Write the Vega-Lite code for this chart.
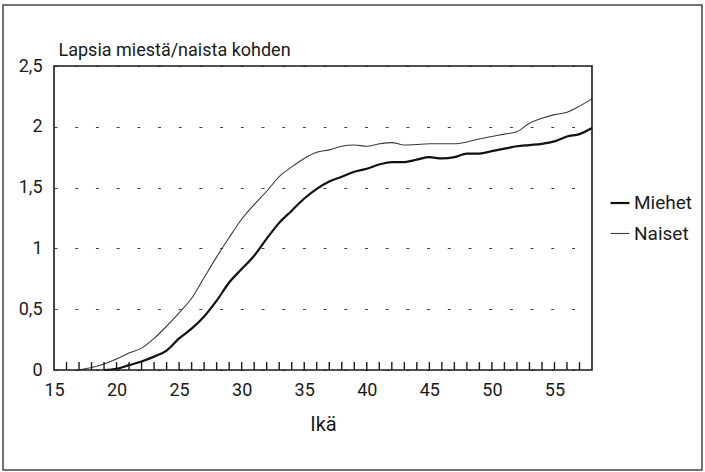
{
  "$schema": "https://vega.github.io/schema/vega-lite/v6.json",
  "autosize": {"type": "none"},
  "padding": {"left": 3, "top": 5, "right": 3, "bottom": 2},
  "width": 699,
  "height": 465,
  "background": "white",
  "config": {
    "view": {"stroke": "#444", "strokeWidth": 1.5},
    "font": "Roboto",
    "axis": {"labelFont": "Roboto", "titleFont": "Roboto", "labelColor": "#1a1a1a", "titleColor": "#1a1a1a", "titleFontWeight": "normal"},
    "legend": {"labelFont": "Roboto"}
  },
  "datasets": {
    "series": [
      {"age": 17, "value": 0.0, "sex": "Naiset"},
      {"age": 18, "value": 0.02, "sex": "Naiset"},
      {"age": 19, "value": 0.05, "sex": "Naiset"},
      {"age": 20, "value": 0.09, "sex": "Naiset"},
      {"age": 21, "value": 0.14, "sex": "Naiset"},
      {"age": 22, "value": 0.18, "sex": "Naiset"},
      {"age": 23, "value": 0.26, "sex": "Naiset"},
      {"age": 24, "value": 0.36, "sex": "Naiset"},
      {"age": 25, "value": 0.47, "sex": "Naiset"},
      {"age": 26, "value": 0.59, "sex": "Naiset"},
      {"age": 27, "value": 0.76, "sex": "Naiset"},
      {"age": 28, "value": 0.93, "sex": "Naiset"},
      {"age": 29, "value": 1.09, "sex": "Naiset"},
      {"age": 30, "value": 1.24, "sex": "Naiset"},
      {"age": 31, "value": 1.36, "sex": "Naiset"},
      {"age": 32, "value": 1.47, "sex": "Naiset"},
      {"age": 33, "value": 1.59, "sex": "Naiset"},
      {"age": 34, "value": 1.67, "sex": "Naiset"},
      {"age": 35, "value": 1.74, "sex": "Naiset"},
      {"age": 36, "value": 1.79, "sex": "Naiset"},
      {"age": 37, "value": 1.81, "sex": "Naiset"},
      {"age": 38, "value": 1.84, "sex": "Naiset"},
      {"age": 39, "value": 1.85, "sex": "Naiset"},
      {"age": 40, "value": 1.84, "sex": "Naiset"},
      {"age": 41, "value": 1.86, "sex": "Naiset"},
      {"age": 42, "value": 1.87, "sex": "Naiset"},
      {"age": 43, "value": 1.85, "sex": "Naiset"},
      {"age": 44, "value": 1.855, "sex": "Naiset"},
      {"age": 45, "value": 1.86, "sex": "Naiset"},
      {"age": 46, "value": 1.86, "sex": "Naiset"},
      {"age": 47, "value": 1.86, "sex": "Naiset"},
      {"age": 48, "value": 1.875, "sex": "Naiset"},
      {"age": 49, "value": 1.9, "sex": "Naiset"},
      {"age": 50, "value": 1.92, "sex": "Naiset"},
      {"age": 51, "value": 1.94, "sex": "Naiset"},
      {"age": 52, "value": 1.96, "sex": "Naiset"},
      {"age": 53, "value": 2.03, "sex": "Naiset"},
      {"age": 54, "value": 2.07, "sex": "Naiset"},
      {"age": 55, "value": 2.1, "sex": "Naiset"},
      {"age": 56, "value": 2.12, "sex": "Naiset"},
      {"age": 57, "value": 2.17, "sex": "Naiset"},
      {"age": 58, "value": 2.23, "sex": "Naiset"},
      {"age": 19, "value": 0.0, "sex": "Miehet"},
      {"age": 20, "value": 0.01, "sex": "Miehet"},
      {"age": 21, "value": 0.04, "sex": "Miehet"},
      {"age": 22, "value": 0.07, "sex": "Miehet"},
      {"age": 23, "value": 0.11, "sex": "Miehet"},
      {"age": 24, "value": 0.16, "sex": "Miehet"},
      {"age": 25, "value": 0.26, "sex": "Miehet"},
      {"age": 26, "value": 0.34, "sex": "Miehet"},
      {"age": 27, "value": 0.44, "sex": "Miehet"},
      {"age": 28, "value": 0.57, "sex": "Miehet"},
      {"age": 29, "value": 0.72, "sex": "Miehet"},
      {"age": 30, "value": 0.83, "sex": "Miehet"},
      {"age": 31, "value": 0.94, "sex": "Miehet"},
      {"age": 32, "value": 1.08, "sex": "Miehet"},
      {"age": 33, "value": 1.21, "sex": "Miehet"},
      {"age": 34, "value": 1.31, "sex": "Miehet"},
      {"age": 35, "value": 1.41, "sex": "Miehet"},
      {"age": 36, "value": 1.49, "sex": "Miehet"},
      {"age": 37, "value": 1.55, "sex": "Miehet"},
      {"age": 38, "value": 1.59, "sex": "Miehet"},
      {"age": 39, "value": 1.63, "sex": "Miehet"},
      {"age": 40, "value": 1.655, "sex": "Miehet"},
      {"age": 41, "value": 1.69, "sex": "Miehet"},
      {"age": 42, "value": 1.71, "sex": "Miehet"},
      {"age": 43, "value": 1.71, "sex": "Miehet"},
      {"age": 44, "value": 1.73, "sex": "Miehet"},
      {"age": 45, "value": 1.75, "sex": "Miehet"},
      {"age": 46, "value": 1.74, "sex": "Miehet"},
      {"age": 47, "value": 1.75, "sex": "Miehet"},
      {"age": 48, "value": 1.78, "sex": "Miehet"},
      {"age": 49, "value": 1.78, "sex": "Miehet"},
      {"age": 50, "value": 1.8, "sex": "Miehet"},
      {"age": 51, "value": 1.82, "sex": "Miehet"},
      {"age": 52, "value": 1.84, "sex": "Miehet"},
      {"age": 53, "value": 1.85, "sex": "Miehet"},
      {"age": 54, "value": 1.86, "sex": "Miehet"},
      {"age": 55, "value": 1.88, "sex": "Miehet"},
      {"age": 56, "value": 1.92, "sex": "Miehet"},
      {"age": 57, "value": 1.94, "sex": "Miehet"},
      {"age": 58, "value": 1.99, "sex": "Miehet"}
    ]
  },
  "resolve": {"axis": {"x": "independent", "y": "independent"}},
  "layer": [
    {
      "data": {"name": "series"},
      "mark": {"type": "line", "interpolate": "monotone"},
      "encoding": {
        "x": {
          "field": "age", "type": "quantitative",
          "scale": {"domain": [15, 58], "range": [51, 589], "nice": false, "zero": false},
          "axis": {
            "title": "Ikä", "titleFontSize": 20, "titleY": 60, "titleBaseline": "alphabetic",
            "offset": -100, "domain": false, "grid": false, "ticks": false,
            "values": [15, 20, 25, 30, 35, 40, 45, 50, 55],
            "labelFontSize": 18, "labelPadding": 11, "labelFlush": false, "labelOverlap": false
          }
        },
        "y": {
          "field": "value", "type": "quantitative",
          "scale": {"domain": [0, 2.5], "range": [365, 61], "nice": false},
          "axis": {
            "title": "Lapsia miestä/naista kohden", "titleAngle": 0, "titleAlign": "left",
            "titleBaseline": "alphabetic", "titleX": 4, "titleY": 50, "titleFontSize": 18,
            "offset": -51, "domain": false, "ticks": false,
            "values": [0, 0.5, 1, 1.5, 2, 2.5],
            "labelExpr": "replace(format(datum.value, '~g'), '.', ',')",
            "labelFontSize": 18, "labelPadding": 12,
            "grid": true, "gridColor": "#444", "gridDash": [3, 17.7], "gridWidth": 1.2
          }
        },
        "color": {
          "field": "sex", "type": "nominal",
          "scale": {"domain": ["Miehet", "Naiset"], "range": ["#111111", "#3a3a3a"]},
          "legend": {
            "title": null, "orient": "none", "legendX": 606, "legendY": 187,
            "symbolType": "stroke", "symbolSize": 361, "labelFontSize": 19,
            "labelColor": "#1a1a1a", "labelOffset": 3, "rowPadding": 10, "padding": 0
          }
        },
        "strokeWidth": {
          "field": "sex", "type": "ordinal",
          "scale": {"domain": ["Miehet", "Naiset"], "range": [2.2, 1.1]},
          "legend": {
            "title": null, "orient": "none", "legendX": 606, "legendY": 187,
            "symbolType": "stroke", "symbolSize": 361, "labelFontSize": 19,
            "labelColor": "#1a1a1a", "labelOffset": 3, "rowPadding": 10, "padding": 0
          }
        }
      }
    },
    {
      "data": {"values": [
        {"age": 16}, {"age": 17}, {"age": 18}, {"age": 19}, {"age": 20}, {"age": 21}, {"age": 22},
        {"age": 23}, {"age": 24}, {"age": 25}, {"age": 26}, {"age": 27}, {"age": 28}, {"age": 29},
        {"age": 30}, {"age": 31}, {"age": 32}, {"age": 33}, {"age": 34}, {"age": 35}, {"age": 36},
        {"age": 37}, {"age": 38}, {"age": 39}, {"age": 40}, {"age": 41}, {"age": 42}, {"age": 43},
        {"age": 44}, {"age": 45}, {"age": 46}, {"age": 47}, {"age": 48}, {"age": 49}, {"age": 50},
        {"age": 51}, {"age": 52}, {"age": 53}, {"age": 54}, {"age": 55}, {"age": 56}, {"age": 57}
      ]},
      "mark": {"type": "rule", "color": "#1a1a1a", "strokeWidth": 1.4},
      "encoding": {
        "x": {"field": "age", "type": "quantitative", "axis": null},
        "y": {"datum": 0, "type": "quantitative", "axis": null},
        "y2": {"datum": 0.065}
      }
    },
    {
      "data": {"values": [{"x0": 15, "x1": 58, "y0": 0, "y1": 2.5}]},
      "mark": {"type": "rect", "fill": null, "fillOpacity": 0, "stroke": "#1a1a1a", "strokeWidth": 1.6},
      "encoding": {
        "x": {"field": "x0", "type": "quantitative", "axis": null},
        "x2": {"field": "x1"},
        "y": {"field": "y0", "type": "quantitative", "axis": null},
        "y2": {"field": "y1"}
      }
    }
  ]
}
